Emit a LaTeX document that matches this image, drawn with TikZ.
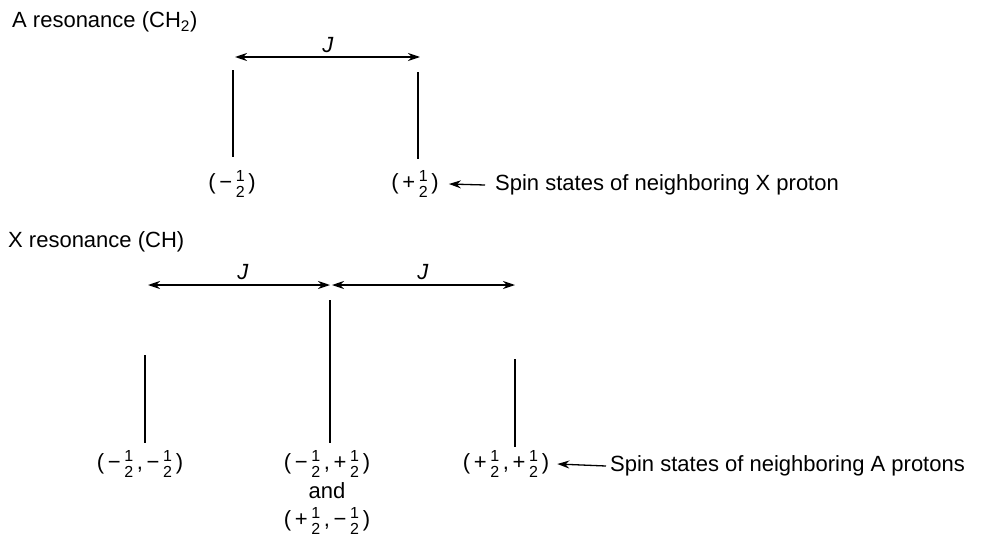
\documentclass[tikz,border=0pt]{standalone}
\usepackage{amsmath}
\usepackage{fontspec}
\setmainfont{Liberation Sans}
\usetikzlibrary{arrows.meta}
\newcommand{\hf}{\ensuremath{\vcenter{\hbox{\fontsize{16}{15.5}\selectfont\vbox{\hbox{1}\hbox{2}}}}}}
\newcommand{\mn}{\,−\,}
\newcommand{\pl}{\,+\,}
\begin{document}
\begin{tikzpicture}[x=1pt,y=-1pt,
  every node/.style={inner sep=0pt,font=\fontsize{22}{26}\selectfont},
  lbl/.style={anchor=center},
  title/.style={anchor=west},
  peak/.style={line width=1.5pt},
  jarrow/.style={line width=1.3pt,{Stealth[length=12pt,width=8pt]}-{Stealth[length=12pt,width=8pt]}},
  ptr/.style={line width=1.3pt,-{Stealth[length=12pt,width=8pt]}}]
\useasboundingbox (0,0) rectangle (995,551);
% ---- A resonance ----
\node[title] (titleA) at (12,22) {A resonance (CH\textsubscript{2})};
\coordinate (a1t) at (233,70);  \coordinate (a1b) at (233,157);
\coordinate (a2t) at (418,72);  \coordinate (a2b) at (418,159);
\draw[peak] (a1t) -- (a1b);
\draw[peak] (a2t) -- (a2b);
\coordinate (jA1) at (235,57); \coordinate (jA2) at (420,57);
\draw[jarrow] (jA1) -- (jA2);
\node (JA) at (328,45) {\textit{J}};
\node[lbl] (mA) at (232,184) {(\mn\hf\,)};
\node[lbl] (pA) at (415,184) {(\pl\hf\,)};
\node[title] (spinA) at (495,185) {Spin states of neighboring X proton};
\draw[ptr] ([xshift=-10pt]spinA.west) -- ([xshift=10pt]pA.east);
% ---- X resonance ----
\node[title] (titleX) at (8,242) {X resonance (CH)};
\coordinate (x1t) at (145,355); \coordinate (x1b) at (145,443);
\coordinate (x2t) at (330,300); \coordinate (x2b) at (330,443);
\coordinate (x3t) at (515,359); \coordinate (x3b) at (515,447);
\draw[peak] (x1t) -- (x1b);
\draw[peak] (x2t) -- (x2b);
\draw[peak] (x3t) -- (x3b);
\coordinate (jB1) at (148,285); \coordinate (jB2) at (330,285);
\coordinate (jB3) at (332,285); \coordinate (jB4) at (515,285);
\draw[jarrow] (jB1) -- (jB2);
\draw[jarrow] (jB3) -- (jB4);
\node (JB1) at (243,272) {\textit{J}};
\node (JB2) at (423,272) {\textit{J}};
\node[lbl] (mm) at (140,464) {(\mn\hf\,,\mn\hf\,)};
\node[lbl] (mp) at (327,464) {(\mn\hf\,,\pl\hf\,)};
\node[lbl] (andl) at (327,491) {and};
\node[lbl] (pm) at (327,521) {(\pl\hf\,,\mn\hf\,)};
\node[lbl] (pp) at (506,464) {(\pl\hf\,,\pl\hf\,)};
\node[title] (spinB) at (610,466) {Spin states of neighboring A protons};
\draw[ptr] ([xshift=-4pt]spinB.west) -- ([xshift=8pt]pp.east);
\end{tikzpicture}
\end{document}
